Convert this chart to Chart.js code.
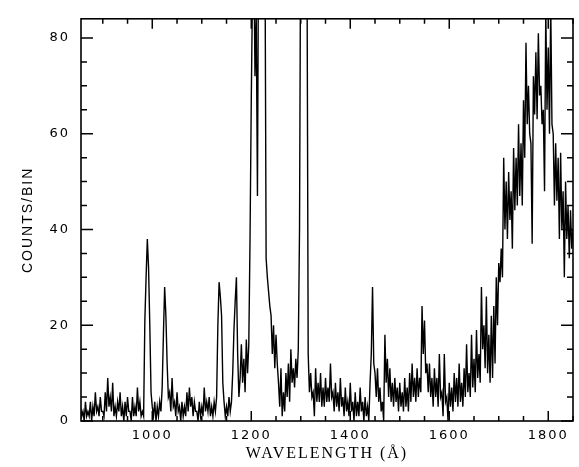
<!DOCTYPE html>
<html><head><meta charset="utf-8">
<script src="https://cdn.jsdelivr.net/npm/chart.js@4"></script>
<style>html,body{margin:0;padding:0;background:#fff;}</style>
</head><body>
<canvas id="c" width="579" height="467"></canvas>
<script>
// Spectrum: 2.5 Å bins starting at 855 Å (counts per bin)
const binStart = 855;
const binStep = 2.5;
const counts = [
  3,1, 2,0, 4,1, 2,1, 4,0, 3,1, 6,2, 3,1, 5,2, 2,1,            // 855-900
  6,2, 9,3, 5,2, 8,1, 3,1, 4,2, 6,1, 3,0, 4,1, 5,2,            // 905-950
  2,0, 5,1, 3,1, 7,2, 4,1, 2,1, 21,30, 38,32, 20,6, 3,1,       // 955-1000
  4,0, 3,1, 4,2, 7,18, 28,22, 12,5, 6,2, 9,3, 4,1, 6,2,        // 1005-1050
  3,0, 4,1, 3,1, 6,2, 7,3, 5,1, 4,2, 2,0, 4,1, 3,1,            // 1055-1100
  7,2, 4,2, 5,1, 3,1, 4,2, 5,20, 29,26, 22,8, 4,1, 3,1,        // 1105-1150
  5,2, 4,10, 19,25, 30,14, 5,9, 16,8, 13,6, 17,10, 16,38, 67,90, // 1155-1200
  100,72, 85,47, 110,120, 115,118, 110,105, 34,30, 27,24, 22,14, 20,11, 18,12, // 1205-1250
  8,3, 11,1, 6,2, 10,5, 12,4, 15,8, 11,7, 13,9, 15,40, 110,120, // 1255-1300
  120,115, 110,100, 14,6, 10,5, 6,1, 11,4, 8,4, 10,3, 7,3, 9,4, // 1305-1350
  7,4, 12,5, 6,2, 8,3, 6,2, 9,3, 5,1, 7,2, 4,1, 8,2,           // 1355-1400
  4,0, 6,1, 4,1, 7,2, 4,0, 5,1, 3,0, 8,14, 28,12, 10,5,        // 1405-1450
  11,4, 7,2, 4,0, 18,8, 13,5, 11,4, 8,3, 9,4, 7,2, 8,3,        // 1455-1500
  6,2, 9,3, 7,2, 10,4, 12,5, 9,4, 11,5, 9,6, 24,14, 21,10,     // 1505-1550
  12,6, 12,5, 9,3, 11,5, 9,3, 14,5, 6,1, 14,4, 5,0, 8,3,       // 1555-1600
  7,2, 10,4, 9,3, 12,4, 8,3, 11,5, 16,6, 10,5, 18,7, 13,6,     // 1605-1650
  19,9, 14,8, 28,15, 20,11, 26,10, 18,8, 22,9, 24,12, 30,20, 33,29, // 1655-1700
  36,30, 55,40, 50,38, 52,42, 48,36, 57,44, 55,45, 62,47, 58,45, 67,55, // 1705-1750
  79,62, 70,60, 58,37, 72,64, 77,63, 81,68, 70,62, 65,48, 86,65, 78,60, // 1755-1800
  87,62, 60,45, 58,46, 55,38, 56,40, 48,30, 50,38, 45,34, 44,36, 40,25  // 1805-1850
];
const wavelengths = counts.map((_, i) => binStart + i * binStep);
const xTickLabels = [1000, 1200, 1400, 1600, 1800];
const yTickLabels = [0, 20, 40, 60, 80];
const xRange = [856, 1850];
const yRange = [0, 84];

const points = wavelengths.map((w, i) => ({x: w, y: counts[i]}));

const framePlugin = {
  id: 'frame',
  beforeDraw(chart) { chart.ctx.letterSpacing = '2px'; },
  afterDraw(chart) {
    const {ctx, chartArea: a, scales: {x, y}} = chart;
    ctx.save();
    ctx.letterSpacing = '0px';
    ctx.strokeStyle = '#000';
    ctx.lineWidth = 1.6;
    ctx.strokeRect(a.left, a.top, a.right - a.left, a.bottom - a.top);
    ctx.lineWidth = 1.5;
    ctx.beginPath();
    for (let v = yRange[0]; v <= yRange[1]; v += 5) {
      const py = y.getPixelForValue(v);
      const len = yTickLabels.includes(v) ? 12 : 6;
      ctx.moveTo(a.left, py); ctx.lineTo(a.left + len, py);
      ctx.moveTo(a.right, py); ctx.lineTo(a.right - len, py);
    }
    for (let v = 900; v <= xRange[1]; v += 50) {
      const px = x.getPixelForValue(v);
      const len = xTickLabels.includes(v) ? 10 : 5;
      ctx.moveTo(px, a.bottom); ctx.lineTo(px, a.bottom - len);
      ctx.moveTo(px, a.top); ctx.lineTo(px, a.top + len);
    }
    ctx.stroke();
    ctx.restore();
    chart.ctx.letterSpacing = '0px';
  }
};

new Chart(document.getElementById('c'), {
  type: 'line',
  data: {
    datasets: [{
      data: points,
      borderColor: '#000',
      borderWidth: 1.4,
      pointRadius: 0,
      tension: 0,
      fill: false
    }]
  },
  options: {
    responsive: false,
    animation: false,
    devicePixelRatio: 1,
    layout: {padding: {top: 9, right: 6, left: 0, bottom: 0}},
    plugins: {legend: {display: false}, tooltip: {enabled: false}},
    scales: {
      x: {
        type: 'linear',
        min: xRange[0], max: xRange[1],
        grid: {display: false, drawTicks: false},
        border: {display: false},
        afterBuildTicks: s => { s.ticks = xTickLabels.map(v => ({value: v})); },
        afterFit: s => { s.height = 46; },
        ticks: {
          color: '#000', padding: 7, maxRotation: 0, autoSkip: false,
          font: {family: 'DejaVu Sans', size: 13},
          callback: v => String(v)
        },
        title: {
          display: true, text: 'WAVELENGTH (Å)', color: '#000',
          font: {family: 'Liberation Serif', size: 16},
          padding: {top: 0, bottom: 4}
        }
      },
      y: {
        type: 'linear',
        min: yRange[0], max: yRange[1],
        grid: {display: false, drawTicks: false},
        border: {display: false},
        afterBuildTicks: s => { s.ticks = yTickLabels.map(v => ({value: v})); },
        afterFit: s => { s.width = 81; },
        ticks: {
          color: '#000', padding: 11, autoSkip: false,
          font: {family: 'DejaVu Sans', size: 13},
          callback: v => String(v)
        },
        title: {
          display: true, text: 'COUNTS/BIN', color: '#000',
          font: {family: 'Liberation Sans', size: 14},
          padding: {top: 20, bottom: 0}
        }
      }
    }
  },
  plugins: [framePlugin]
});
</script>
</body></html>
